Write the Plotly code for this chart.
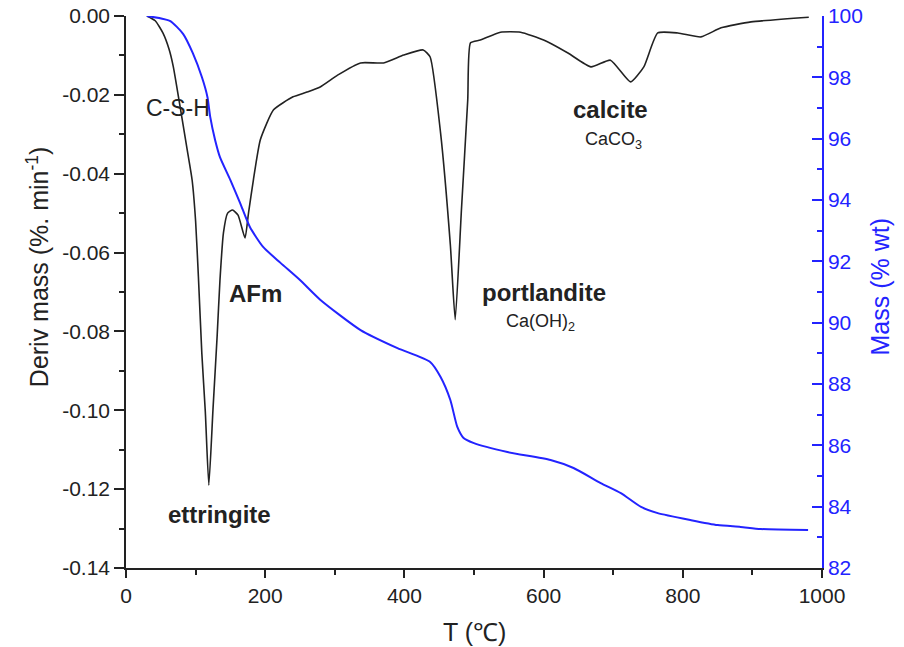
import plotly.graph_objects as go

# ---- data ----
T_dtg = [30, 42, 53, 62, 68, 78, 88, 95, 100, 104, 109, 114, 119, 125, 131, 135, 140, 146,
         153, 161, 171, 176, 183, 193, 212, 240, 260, 279, 304, 337, 370, 399,
         427, 437, 452, 466, 473, 482, 491, 495, 509, 538, 567, 600, 635, 668,
         696, 725, 744, 764, 793, 826, 855, 898, 981]
dtg = [0, -0.0012, -0.0043, -0.0085, -0.0129, -0.0233, -0.034, -0.0416, -0.052, -0.066, -0.0857,
       -0.1005, -0.119, -0.0997, -0.081, -0.067, -0.055, -0.050, -0.0492, -0.0505,
       -0.0563, -0.050, -0.0416, -0.0314, -0.0238, -0.0205, -0.0193, -0.018,
       -0.015, -0.0119, -0.0119, -0.0099, -0.0086, -0.0104, -0.0297, -0.058,
       -0.077, -0.049, -0.0213, -0.0068, -0.0061, -0.0041, -0.0041, -0.0061,
       -0.0094, -0.0129, -0.0112, -0.0167, -0.0129, -0.0043, -0.0043, -0.0053,
       -0.003, -0.0015, -0.0003]

T_mass = [30, 63, 82, 96, 109, 117, 121, 128, 135, 150, 164, 178, 197, 222,
          250, 279, 337, 390, 437, 452, 466, 476, 485, 499, 548, 610, 643, 682,
          711, 740, 764, 812, 850, 883, 912, 980]
mass = [100, 99.84, 99.42, 98.79, 98.01, 97.36, 96.71, 95.96, 95.40, 94.65,
        93.90, 93.12, 92.47, 91.95, 91.39, 90.75, 89.76, 89.17, 88.72, 88.23,
        87.48, 86.60, 86.24, 86.08, 85.78, 85.52, 85.26, 84.77, 84.44, 83.99,
        83.79, 83.56, 83.40, 83.34, 83.27, 83.24]

x_ticks = [0, 200, 400, 600, 800, 1000]
x_ticktext = ["0", "200", "400", "600", "800", "1000"]
y1_ticks = [0, -0.02, -0.04, -0.06, -0.08, -0.10, -0.12, -0.14]
y1_ticktext = ["0.00", "-0.02", "-0.04", "-0.06", "-0.08", "-0.10", "-0.12", "-0.14"]
y2_ticks = [82, 84, 86, 88, 90, 92, 94, 96, 98, 100]

# peak labels: (text, T, y, size, bold)
labels = [
    ("C-S-H", 75, -0.0233, 23, False),
    ("ettringite", 135, -0.1265, 24, True),
    ("AFm", 186, -0.0705, 24, True),
    ("portlandite", 600, -0.0702, 24, True),
    ("Ca(OH)<sub>2</sub>", 596, -0.0778, 18, False),
    ("calcite", 696, -0.0238, 24, True),
    ("CaCO<sub>3</sub>", 701, -0.0316, 18, False),
]

FONT = "Arial, 'Liberation Sans', Helvetica, sans-serif"
BLUE = "#2323ff"
INK = "#222222"

fig = go.Figure()
fig.add_trace(go.Scatter(x=T_dtg, y=dtg, mode="lines",
                         line=dict(color=INK, width=1.6, shape="spline", smoothing=0.5),
                         yaxis="y", showlegend=False))
fig.add_trace(go.Scatter(x=T_mass, y=mass, mode="lines",
                         line=dict(color=BLUE, width=2, shape="spline", smoothing=0.6),
                         yaxis="y2", showlegend=False))

annotations = []
for txt, tx, ty, sz, bold in labels:
    annotations.append(dict(x=tx, y=ty, xref="x", yref="y",
                            text=f"<b>{txt}</b>" if bold else txt,
                            showarrow=False, xanchor="center", yanchor="middle",
                            font=dict(family=FONT, size=sz, color=INK)))
# axis titles
annotations.append(dict(x=0, y=0.545, xref="paper", yref="paper", xshift=-88,
                        text="Deriv mass (%. min<sup>-1</sup>)", textangle=-90,
                        showarrow=False, xanchor="center", yanchor="middle",
                        font=dict(family=FONT, size=25, color=INK)))
annotations.append(dict(x=1, y=0.51, xref="paper", yref="paper", xshift=58,
                        text="Mass (% wt)", textangle=-90,
                        showarrow=False, xanchor="center", yanchor="middle",
                        font=dict(family=FONT, size=25, color=BLUE)))
annotations.append(dict(x=0.5, y=0, xref="paper", yref="paper", yshift=-64,
                        text="T (℃)", showarrow=False,
                        xanchor="center", yanchor="middle",
                        font=dict(family=FONT, size=25, color=INK)))

fig.update_layout(
    width=904, height=647,
    margin=dict(l=126, r=82, t=16, b=79, autoexpand=False),
    plot_bgcolor="white", paper_bgcolor="white",
    font=dict(family=FONT, size=21, color=INK),
    xaxis=dict(range=[0, 1000], tickvals=x_ticks, ticktext=x_ticktext,
               showline=True, linecolor=INK, linewidth=1.5,
               ticks="outside", ticklen=8, tickwidth=1.5, tickcolor=INK,
               minor=dict(dtick=100, tick0=0, ticks="outside", ticklen=5, tickcolor=INK),
               showgrid=False, zeroline=False, mirror=False, automargin=False,
               tickfont=dict(family=FONT, size=21, color=INK)),
    yaxis=dict(range=[-0.14, 0], tickvals=y1_ticks, ticktext=y1_ticktext,
               showline=True, linecolor=INK, linewidth=1.5,
               ticks="outside", ticklen=10, tickwidth=1.5, tickcolor=INK,
               minor=dict(dtick=0.01, tick0=0, ticks="outside", ticklen=5, tickcolor=INK),
               showgrid=False, zeroline=False, automargin=False,
               tickfont=dict(family=FONT, size=21, color=INK)),
    yaxis2=dict(range=[82, 100], tickvals=y2_ticks, overlaying="y", side="right",
                showline=True, linecolor=BLUE, linewidth=1.5,
                ticks="inside", ticklen=10, tickwidth=1.5, tickcolor=BLUE,
                minor=dict(dtick=1, tick0=82, ticks="inside", ticklen=5, tickcolor=BLUE),
                tickfont=dict(color=BLUE, family=FONT, size=21),
                showgrid=False, zeroline=False, automargin=False),
    annotations=annotations,
)

fig.write_html("out.html")
